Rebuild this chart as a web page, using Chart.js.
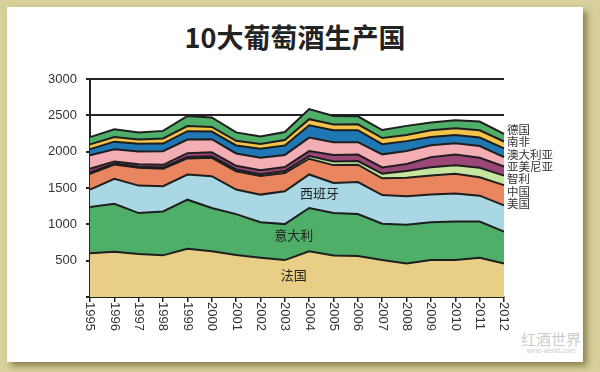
<!DOCTYPE html>
<html lang="zh">
<head>
  <meta charset="UTF-8">
  <title>10大葡萄酒生产国</title>
  <script src="https://cdn.jsdelivr.net/npm/chart.js"></script>
<style>
  html, body { margin: 0; padding: 0; }
  body {
    width: 600px; height: 372px; overflow: hidden; position: relative;
    background: #d7d09b;
    font-family: "Noto Sans CJK SC", sans-serif;
  }
  .panel {
    position: absolute; left: 7px; top: 7px; width: 576px; height: 355px;
    background: #fff;
    box-shadow: 4px 4px 6px rgba(80, 70, 20, 0.55);
  }
  h1 {
    position: absolute; left: 7px; width: 576px; top: 23px; margin: 0;
    text-align: center; font-size: 27px; line-height: 1; font-weight: 700; color: #222;
  }
  #chart { position: absolute; left: 0; top: 0; }
  .wm { position: absolute; left: 521px; top: 331px; color: #cccccc; text-align: center; }
  .wm .cn { font-size: 15px; line-height: 16px; }
  .wm .en { font-family: "Liberation Sans", sans-serif; font-size: 7px; line-height: 8px; }
</style>
</head>
<body>
  <div class="panel"></div>
  <h1>10大葡萄酒生产国</h1>
  <div class="wm"><div class="cn">红酒世界</div><div class="en">wine-world.com</div></div>
  <canvas id="chart" width="600" height="372"></canvas>
  <script>
    // years on the x axis
    const years = ['1995','1996','1997','1998','1999','2000','2001','2002','2003',
                   '2004','2005','2006','2007','2008','2009','2010','2011','2012'];

    // production per country, stacked bottom to top
    const france      = [601,623,591,573,665,630,577,540,508,630,570,564,508,462,508,508,540,462];
    const italy       = [637,661,564,604,674,594,564,490,495,595,585,577,500,531,522,531,499,438];
    const spain       = [240,342,378,347,347,438,337,379,452,461,415,440,395,393,379,386,356,360];
    const usa         = [217,198,245,240,221,254,252,256,250,217,245,240,230,254,263,270,253,280];
    const china       = [20,12,15,18,18,20,25,25,28,36,50,50,65,95,115,119,130,130];
    const chile       = [50,30,35,37,55,55,50,55,55,69,90,90,85,95,138,148,139,125];
    const argentina   = [185,166,175,187,187,180,170,170,167,186,175,170,180,180,162,153,161,130];
    const australia   = [85,106,105,105,115,105,110,125,130,170,165,165,140,135,115,115,116,120];
    const southAfrica = [65,64,60,70,70,65,65,65,75,83,80,80,85,85,93,93,101,95];
    const germany     = [100,107,95,105,140,130,115,105,110,139,115,110,110,125,106,110,120,105];

    // labels on the right, top to bottom
    const sideLabels = ['德国','南非','澳大利亚','亚美尼亚','智利','中国','美国'];
    const sideLabelVals = [2310,2135,1965,1800,1625,1455,1285];

    // labels inside the areas: [text, x index, y value]
    const innerLabels = [['西班牙', 9.42, 1436], ['意大利', 8.37, 848], ['法国', 8.37, 300]];

    Chart.defaults.font.family = '"Liberation Sans", Arial, sans-serif';

    function layer(label, data, color, fill) {
      return {
        label: label, data: data, backgroundColor: color, fill: fill,
        borderColor: '#1e1e1e', borderWidth: 2, pointRadius: 0, tension: 0
      };
    }

    const textPlugin = {
      id: 'textPlugin',
      afterDraw(chart) {
        const { ctx, scales: { x, y }, chartArea } = chart;
        ctx.save();
        // rotated year labels
        ctx.font = '13px "Liberation Sans", Arial, sans-serif';
        ctx.fillStyle = '#333';
        ctx.textAlign = 'left';
        ctx.textBaseline = 'middle';
        years.forEach((yr, i) => {
          ctx.save();
          ctx.translate(x.getPixelForValue(i), x.top + 5);
          ctx.rotate(Math.PI / 2);
          ctx.fillText(yr, 0, 0);
          ctx.restore();
        });
        // country names on the right
        ctx.font = '11.5px "Noto Sans CJK SC", sans-serif';
        sideLabels.forEach((t, i) => {
          ctx.fillText(t, chartArea.right + 3, y.getPixelForValue(sideLabelVals[i]));
        });
        // names inside the areas
        ctx.font = '13px "Noto Sans CJK SC", sans-serif';
        ctx.fillStyle = '#222';
        ctx.textAlign = 'center';
        innerLabels.forEach(([t, xi, v]) => {
          const px = chartArea.left + (chartArea.right - chartArea.left) * xi / (years.length - 1);
          ctx.fillText(t, px, y.getPixelForValue(v));
        });
        ctx.restore();
      }
    };

    new Chart(document.getElementById('chart'), {
      type: 'line',
      data: {
        labels: years,
        datasets: [
          layer('法国', france, '#e9cf85', 'origin'),
          layer('意大利', italy, '#4fae68', '-1'),
          layer('西班牙', spain, '#a9d7e4', '-1'),
          layer('美国', usa, '#e9865f', '-1'),
          layer('中国', china, '#c6e6a0', '-1'),
          layer('智利', chile, '#9a4677', '-1'),
          layer('亚美尼亚', argentina, '#f3adb4', '-1'),
          layer('澳大利亚', australia, '#1f78b4', '-1'),
          layer('南非', southAfrica, '#f4c44a', '-1'),
          layer('德国', germany, '#4fae68', '-1')
        ]
      },
      options: {
        responsive: false,
        animation: false,
        layout: { padding: { left: 40, right: 96, top: 79, bottom: 35 } },
        plugins: { legend: { display: false }, tooltip: { enabled: false } },
        scales: {
          x: {
            ticks: { display: false },
            grid: { drawOnChartArea: false, color: '#222', lineWidth: 1.5, tickLength: 5 },
            border: { color: '#222', width: 2 },
            afterFit: s => { s.height = 40; }
          },
          y: {
            stacked: true,
            min: 0, max: 3000,
            ticks: {
              stepSize: 500, padding: 9, color: '#333',
              font: { size: 13 },
              callback: v => v === 0 ? '' : v
            },
            grid: { color: '#222', lineWidth: 2, tickLength: 4 },
            border: { color: '#222', width: 2 },
            afterFit: s => { s.width = 50; }
          }
        }
      },
      plugins: [textPlugin]
    });
  </script>
</body>
</html>
